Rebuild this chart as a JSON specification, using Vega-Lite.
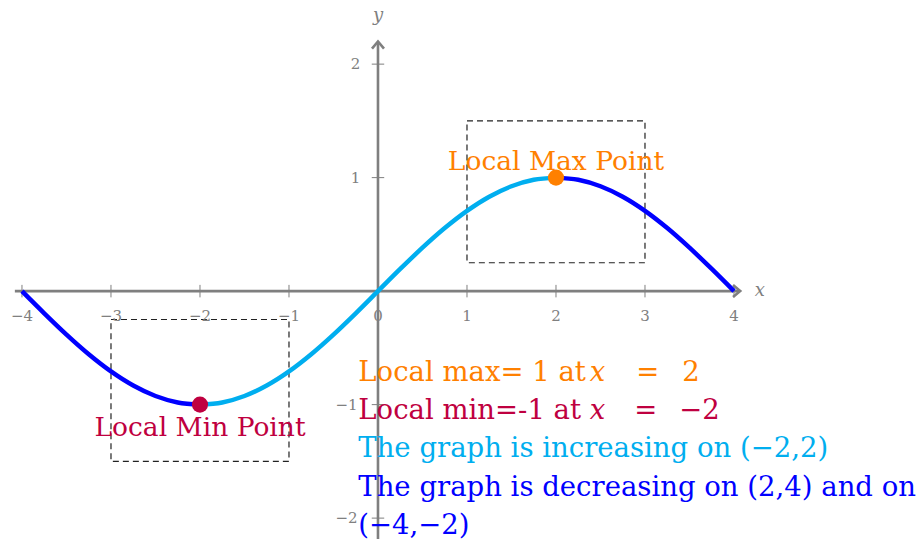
{
  "$schema": "https://vega.github.io/schema/vega-lite/v6.json",
  "width": 920,
  "height": 540,
  "autosize": {"type": "fit", "contains": "padding"},
  "padding": 0,
  "background": "white",
  "config": {"view": {"stroke": null}},
  "encoding": {
    "x": {"field": "x", "type": "quantitative", "scale": {"domain": [-4.247, 6.09], "nice": false, "zero": false}, "axis": null},
    "y": {"field": "y", "type": "quantitative", "scale": {"domain": [-2.184, 2.565], "nice": false, "zero": false}, "axis": null}
  },
  "layer": [
    {
      "data": {"values": [
        {"x": -4.08, "y": 0, "x2": 4.06, "y2": 0},
        {"x": 0, "y": -2.3, "x2": 0, "y2": 2.19}
      ]},
      "mark": {"type": "rule", "stroke": "#7f7f7f", "strokeWidth": 2.6, "clip": true},
      "encoding": {"x2": {"field": "x2"}, "y2": {"field": "y2"}}
    },
    {
      "data": {"values": [
        {"x": -4, "y": -0.055, "x2": -4, "y2": 0.055},
        {"x": -3, "y": -0.055, "x2": -3, "y2": 0.055},
        {"x": -2, "y": -0.055, "x2": -2, "y2": 0.055},
        {"x": -1, "y": -0.055, "x2": -1, "y2": 0.055},
        {"x": 1, "y": -0.055, "x2": 1, "y2": 0.055},
        {"x": 2, "y": -0.055, "x2": 2, "y2": 0.055},
        {"x": 3, "y": -0.055, "x2": 3, "y2": 0.055},
        {"x": 4, "y": -0.055, "x2": 4, "y2": 0.055},
        {"x": -0.07, "y": 2, "x2": 0.07, "y2": 2},
        {"x": -0.07, "y": 1, "x2": 0.07, "y2": 1},
        {"x": -0.07, "y": -1, "x2": 0.07, "y2": -1},
        {"x": -0.07, "y": -2, "x2": 0.07, "y2": -2}
      ]},
      "mark": {"type": "rule", "stroke": "#7f7f7f", "strokeWidth": 1},
      "encoding": {"x2": {"field": "x2"}, "y2": {"field": "y2"}}
    },
    {
      "data": {"values": [{"x": 4.07, "y": 0}]},
      "mark": {"type": "point", "shape": "M-1.2,-1L0,0L-1.2,1", "size": 144, "filled": false, "stroke": "#7f7f7f", "strokeWidth": 2.6, "opacity": 1}
    },
    {
      "data": {"values": [{"x": 0, "y": 2.2}]},
      "mark": {"type": "point", "shape": "M-1,1.2L0,0L1,1.2", "size": 144, "filled": false, "stroke": "#7f7f7f", "strokeWidth": 2.6, "opacity": 1}
    },
    {
      "data": {"values": [
        {"x": 1, "y": 0.25, "x2": 3, "y2": 1.5},
        {"x": -3, "y": -1.5, "x2": -1, "y2": -0.25}
      ]},
      "mark": {"type": "rect", "fill": null, "fillOpacity": 0, "stroke": "#222222", "strokeWidth": 1.2, "strokeDash": [6, 4]},
      "encoding": {"x2": {"field": "x2"}, "y2": {"field": "y2"}}
    },
    {
      "data": {"values": [
        {"x": -4, "y": 0, "seg": "a", "k": "dec"},
        {"x": -3.75, "y": -0.1951, "seg": "a", "k": "dec"},
        {"x": -3.5, "y": -0.3827, "seg": "a", "k": "dec"},
        {"x": -3.25, "y": -0.5556, "seg": "a", "k": "dec"},
        {"x": -3, "y": -0.7071, "seg": "a", "k": "dec"},
        {"x": -2.75, "y": -0.8315, "seg": "a", "k": "dec"},
        {"x": -2.5, "y": -0.9239, "seg": "a", "k": "dec"},
        {"x": -2.25, "y": -0.9808, "seg": "a", "k": "dec"},
        {"x": -2, "y": -1, "seg": "a", "k": "dec"},
        {"x": -2, "y": -1, "seg": "b", "k": "inc"},
        {"x": -1.75, "y": -0.9808, "seg": "b", "k": "inc"},
        {"x": -1.5, "y": -0.9239, "seg": "b", "k": "inc"},
        {"x": -1.25, "y": -0.8315, "seg": "b", "k": "inc"},
        {"x": -1, "y": -0.7071, "seg": "b", "k": "inc"},
        {"x": -0.75, "y": -0.5556, "seg": "b", "k": "inc"},
        {"x": -0.5, "y": -0.3827, "seg": "b", "k": "inc"},
        {"x": -0.25, "y": -0.1951, "seg": "b", "k": "inc"},
        {"x": 0, "y": 0, "seg": "b", "k": "inc"},
        {"x": 0.25, "y": 0.1951, "seg": "b", "k": "inc"},
        {"x": 0.5, "y": 0.3827, "seg": "b", "k": "inc"},
        {"x": 0.75, "y": 0.5556, "seg": "b", "k": "inc"},
        {"x": 1, "y": 0.7071, "seg": "b", "k": "inc"},
        {"x": 1.25, "y": 0.8315, "seg": "b", "k": "inc"},
        {"x": 1.5, "y": 0.9239, "seg": "b", "k": "inc"},
        {"x": 1.75, "y": 0.9808, "seg": "b", "k": "inc"},
        {"x": 2, "y": 1, "seg": "b", "k": "inc"},
        {"x": 2, "y": 1, "seg": "c", "k": "dec"},
        {"x": 2.25, "y": 0.9808, "seg": "c", "k": "dec"},
        {"x": 2.5, "y": 0.9239, "seg": "c", "k": "dec"},
        {"x": 2.75, "y": 0.8315, "seg": "c", "k": "dec"},
        {"x": 3, "y": 0.7071, "seg": "c", "k": "dec"},
        {"x": 3.25, "y": 0.5556, "seg": "c", "k": "dec"},
        {"x": 3.5, "y": 0.3827, "seg": "c", "k": "dec"},
        {"x": 3.75, "y": 0.1951, "seg": "c", "k": "dec"},
        {"x": 4, "y": 0, "seg": "c", "k": "dec"}
      ]},
      "mark": {"type": "line", "strokeWidth": 4.5, "interpolate": "monotone"},
      "encoding": {
        "detail": {"field": "seg", "type": "nominal"},
        "color": {"field": "k", "type": "nominal", "scale": {"domain": ["dec", "inc", "max", "min"], "range": ["#0000ff", "#00aeef", "#ff8000", "#bf0040"]}, "legend": null}
      }
    },
    {
      "data": {"values": [
        {"x": 2, "y": 1, "k": "max"},
        {"x": -2, "y": -1, "k": "min"}
      ]},
      "mark": {"type": "point", "shape": "circle", "filled": true, "size": 260, "opacity": 1},
      "encoding": {
        "color": {"field": "k", "type": "nominal", "scale": {"domain": ["dec", "inc", "max", "min"], "range": ["#0000ff", "#00aeef", "#ff8000", "#bf0040"]}, "legend": null}
      }
    },
    {
      "data": {"values": [
        {"x": 2, "y": 1.07, "t": "Local Max Point", "k": "max"},
        {"x": -2, "y": -1.28, "t": "Local Min Point", "k": "min"}
      ]},
      "mark": {"type": "text", "font": "DejaVu Serif", "fontSize": 26.5, "align": "center", "baseline": "alphabetic"},
      "encoding": {
        "text": {"field": "t"},
        "color": {"field": "k", "type": "nominal", "scale": {"domain": ["dec", "inc", "max", "min"], "range": ["#0000ff", "#00aeef", "#ff8000", "#bf0040"]}, "legend": null}
      }
    },
    {
      "data": {"values": [
        {"x": -0.221, "y": -0.794, "t": "Local max= 1 at", "k": "max"},
        {"x": 2.902, "y": -0.794, "t": "=", "k": "max"},
        {"x": 3.419, "y": -0.794, "t": "2", "k": "max"},
        {"x": -0.221, "y": -1.128, "t": "Local min=-1 at", "k": "min"},
        {"x": 2.88, "y": -1.128, "t": "=", "k": "min"},
        {"x": 3.385, "y": -1.128, "t": "−2", "k": "min"},
        {"x": -0.221, "y": -1.462, "t": "The graph is increasing on (−2,2)", "k": "inc"},
        {"x": -0.221, "y": -1.806, "t": "The graph is decreasing on (2,4) and on", "k": "dec"},
        {"x": -0.221, "y": -2.14, "t": "(−4,−2)", "k": "dec"}
      ]},
      "mark": {"type": "text", "font": "DejaVu Serif", "fontSize": 27.5, "align": "left", "baseline": "alphabetic"},
      "encoding": {
        "text": {"field": "t"},
        "color": {"field": "k", "type": "nominal", "scale": {"domain": ["dec", "inc", "max", "min"], "range": ["#0000ff", "#00aeef", "#ff8000", "#bf0040"]}, "legend": null}
      }
    },
    {
      "data": {"values": [
        {"x": 2.38, "y": -0.794, "t": "x", "k": "max"},
        {"x": 2.38, "y": -1.128, "t": "x", "k": "min"}
      ]},
      "mark": {"type": "text", "font": "DejaVu Serif", "fontSize": 27.5, "fontStyle": "italic", "align": "left", "baseline": "alphabetic"},
      "encoding": {
        "text": {"field": "t"},
        "color": {"field": "k", "type": "nominal", "scale": {"domain": ["dec", "inc", "max", "min"], "range": ["#0000ff", "#00aeef", "#ff8000", "#bf0040"]}, "legend": null}
      }
    },
    {
      "data": {"values": [
        {"x": -4, "y": -0.215, "t": "−4"},
        {"x": -3, "y": -0.215, "t": "−3"},
        {"x": -2, "y": -0.215, "t": "−2"},
        {"x": -1, "y": -0.215, "t": "−1"},
        {"x": 0, "y": -0.215, "t": "0"},
        {"x": 1, "y": -0.215, "t": "1"},
        {"x": 2, "y": -0.215, "t": "2"},
        {"x": 3, "y": -0.215, "t": "3"},
        {"x": 4, "y": -0.215, "t": "4"}
      ]},
      "mark": {"type": "text", "font": "DejaVu Serif", "fontSize": 15, "align": "center", "baseline": "middle", "color": "#808080"},
      "encoding": {"text": {"field": "t"}}
    },
    {
      "data": {"values": [
        {"x": -0.2, "y": 2, "t": "2"},
        {"x": -0.2, "y": 1, "t": "1"},
        {"x": -0.23, "y": -1, "t": "−1"},
        {"x": -0.23, "y": -2, "t": "−2"}
      ]},
      "mark": {"type": "text", "font": "DejaVu Serif", "fontSize": 15, "align": "right", "baseline": "middle", "color": "#808080"},
      "encoding": {"text": {"field": "t"}}
    },
    {
      "data": {"values": [
        {"x": 4.29, "y": 0, "t": "x"},
        {"x": 0, "y": 2.42, "t": "y"}
      ]},
      "mark": {"type": "text", "font": "DejaVu Serif", "fontSize": 18, "fontStyle": "italic", "align": "center", "baseline": "middle", "color": "#7f7f7f"},
      "encoding": {"text": {"field": "t"}}
    }
  ]
}
